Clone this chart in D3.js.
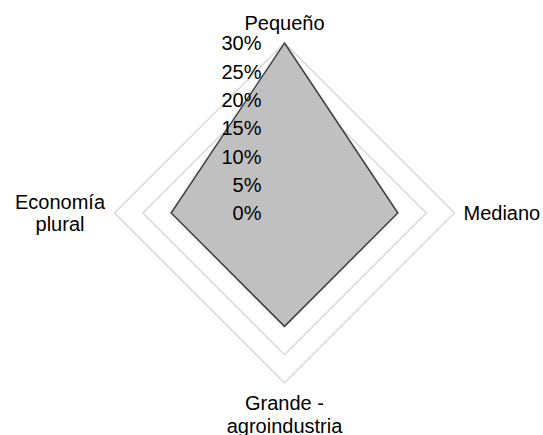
<!DOCTYPE html>
<html>
<head>
<meta charset="utf-8">
<script src="https://cdn.jsdelivr.net/npm/d3@7"></script>
<style>
  html, body { margin: 0; padding: 0; background: #fff; }
  svg { display: block; }
  text { font-family: "Liberation Sans", Arial, sans-serif; fill: #000; }
</style>
</head>
<body>
<svg id="chart" width="543" height="435"></svg>
<script>
// Axes of the radar, clockwise from the top
const categories = [["Pequeño"], ["Mediano"], ["Grande -", "agroindustria"], ["Economía", "plural"]];
// Share per category
const values = [0.30, 0.20, 0.20, 0.20];
// Radial ticks
const tickValues = [0, 0.05, 0.10, 0.15, 0.20, 0.25, 0.30];
const tickLabels = ["0%", "5%", "10%", "15%", "20%", "25%", "30%"];

const svg = d3.select("#chart");
const cx = 284.5, cy = 213, R = 170;
const fontSize = 20;

const r = d3.scaleLinear().domain([0, 0.30]).range([0, R]);
const angle = d3.scaleLinear().domain([0, categories.length]).range([0, 2 * Math.PI]);

const g = svg.append("g").attr("transform", `translate(${cx},${cy})`);

const radial = d3.lineRadial()
  .angle((d, i) => angle(i))
  .radius(d => r(d))
  .curve(d3.curveLinearClosed);

// Concentric grid polygons
g.selectAll("path.grid")
  .data(tickValues.filter(v => v > 0))
  .join("path")
  .attr("class", "grid")
  .attr("d", v => radial(categories.map(() => v)))
  .attr("fill", "none")
  .attr("stroke", "#d9d9d9")
  .attr("stroke-width", 1.5);

// Filled series
g.append("path")
  .attr("d", radial(values))
  .attr("fill", "#c0c0c0")
  .attr("stroke", "#404040")
  .attr("stroke-width", 1.5)
  .attr("stroke-linejoin", "miter");

// Value labels along the top axis
g.selectAll("text.tick")
  .data(tickValues)
  .join("text")
  .attr("class", "tick")
  .attr("x", -23)
  .attr("y", v => -r(v))
  .attr("dy", "0.36em")
  .attr("text-anchor", "end")
  .attr("font-size", fontSize)
  .text((v, i) => tickLabels[i]);

// Category labels placed just outside the outer ring
const lineH = 22.5;
const labelPos = [
  { x: 0, y: -r(0.30) - 13, anchor: "middle", base: "bottom" },
  { x: r(0.30) + 9, y: 6.5, anchor: "start", base: "single" },
  { x: 0, y: r(0.30) + 27, anchor: "middle", base: "top" },
  { x: -r(0.30) + (60 - 114.5), y: -4.5, anchor: "middle", base: "top" }
];

categories.forEach((lines, i) => {
  const p = labelPos[i];
  const t = g.append("text")
    .attr("text-anchor", p.anchor)
    .attr("font-size", fontSize);
  lines.forEach((line, j) => {
    t.append("tspan")
      .attr("x", p.x)
      .attr("y", p.y + j * lineH)
      .text(line);
  });
});
</script>
</body>
</html>
